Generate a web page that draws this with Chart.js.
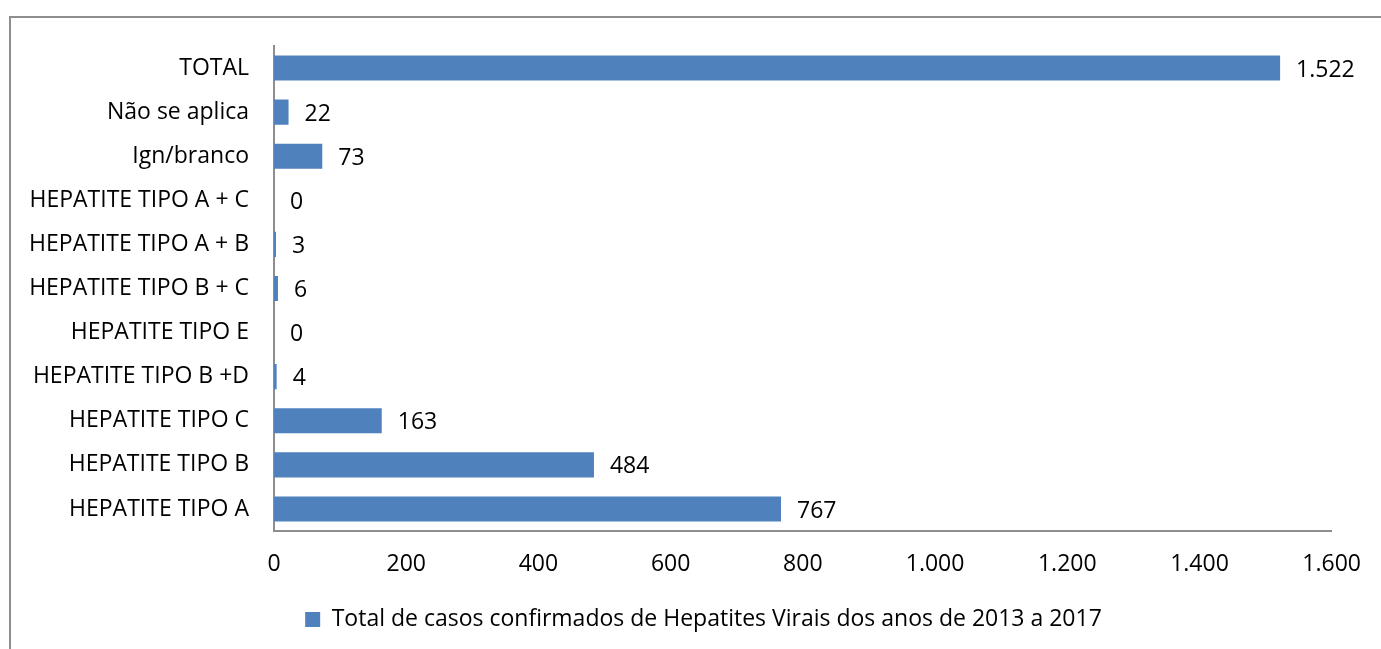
<!DOCTYPE html>
<html>
<head>
<meta charset="utf-8">
<script src="https://cdn.jsdelivr.net/npm/chart.js@4"></script>
<style>
  html, body { margin: 0; padding: 0; background: #fff; overflow: hidden; }
  #frame {
    position: absolute; left: 9px; top: 16px; width: 1420px; height: 700px;
    border: 2px solid #8e8e8e; box-sizing: border-box;
  }
  #wrap { position: absolute; left: 0; top: 0; width: 1381px; height: 649px; }
</style>
</head>
<body>
<div id="frame"></div>
<div id="wrap"><canvas id="myChart"></canvas></div>
<script>
const categories = [
  "TOTAL",
  "Não se aplica",
  "Ign/branco",
  "HEPATITE TIPO A + C",
  "HEPATITE TIPO A + B",
  "HEPATITE TIPO B + C",
  "HEPATITE TIPO E",
  "HEPATITE TIPO B +D",
  "HEPATITE TIPO C",
  "HEPATITE TIPO B",
  "HEPATITE TIPO A"
];
const casos = [1522, 22, 73, 0, 3, 6, 0, 4, 163, 484, 767];
const seriesLabel = "Total de casos confirmados de Hepatites Virais dos anos de 2013 a 2017";
const xTicks = [0, 200, 400, 600, 800, 1000, 1200, 1400, 1600];

const FONT = "'Open Sans'";
const FONT_SIZE = 23;

// 1522 -> "1.522"
function fmt(n) {
  return String(n).replace(/\B(?=(\d{3})+(?!\d))/g, ".");
}

// value labels to the right of each bar
const valueLabels = {
  id: "valueLabels",
  afterDatasetsDraw(chart) {
    const ctx = chart.ctx;
    const meta = chart.getDatasetMeta(0);
    ctx.save();
    ctx.font = FONT_SIZE + "px " + FONT;
    ctx.fillStyle = "#000";
    ctx.textBaseline = "middle";
    ctx.textAlign = "left";
    meta.data.forEach((bar, i) => {
      ctx.fillText(fmt(casos[i]), bar.x + 16, bar.y + 2);
    });
    ctx.restore();
  }
};

// nudge the legend a bit to the right of the canvas centre
const legendShift = {
  id: "legendShift",
  afterLayout(chart) {
    if (chart.legend) chart.legend.left += 74;
  }
};

const ctx = document.getElementById("myChart").getContext("2d");

new Chart(ctx, {
  type: "bar",
  data: {
    labels: categories,
    datasets: [{
      label: seriesLabel,
      data: casos,
      backgroundColor: "#4f81bd",
      borderWidth: 0,
      categoryPercentage: 1,
      barPercentage: 0.57
    }]
  },
  options: {
    indexAxis: "y",
    responsive: true,
    maintainAspectRatio: false,
    animation: false,
    layout: { padding: { top: 46, right: 48, left: 0, bottom: 8 } },
    font: { family: FONT },
    scales: {
      x: {
        min: 0,
        max: 1600,
        afterBuildTicks(scale) {
          scale.ticks = xTicks.map(v => ({ value: v }));
        },
        afterFit(scale) { scale.height = 67; },
        grid: { display: false, drawTicks: false },
        border: { display: true, color: "#8e8e8e", width: 2 },
        ticks: {
          padding: 20,
          color: "#000",
          font: { family: FONT, size: FONT_SIZE },
          callback: v => fmt(v)
        }
      },
      y: {
        afterFit(scale) { scale.width = 274; },
        grid: { display: false, drawTicks: false },
        border: { display: true, color: "#8e8e8e", width: 2 },
        ticks: {
          padding: 25,
          color: "#000",
          font: { family: FONT, size: FONT_SIZE }
        }
      }
    },
    plugins: {
      tooltip: { enabled: false },
      legend: {
        position: "bottom",
        labels: {
          boxWidth: 15,
          boxHeight: 15,
          padding: 10,
          color: "#000",
          font: { family: FONT, size: FONT_SIZE }
        }
      }
    }
  },
  plugins: [valueLabels, legendShift]
});
</script>
</body>
</html>
